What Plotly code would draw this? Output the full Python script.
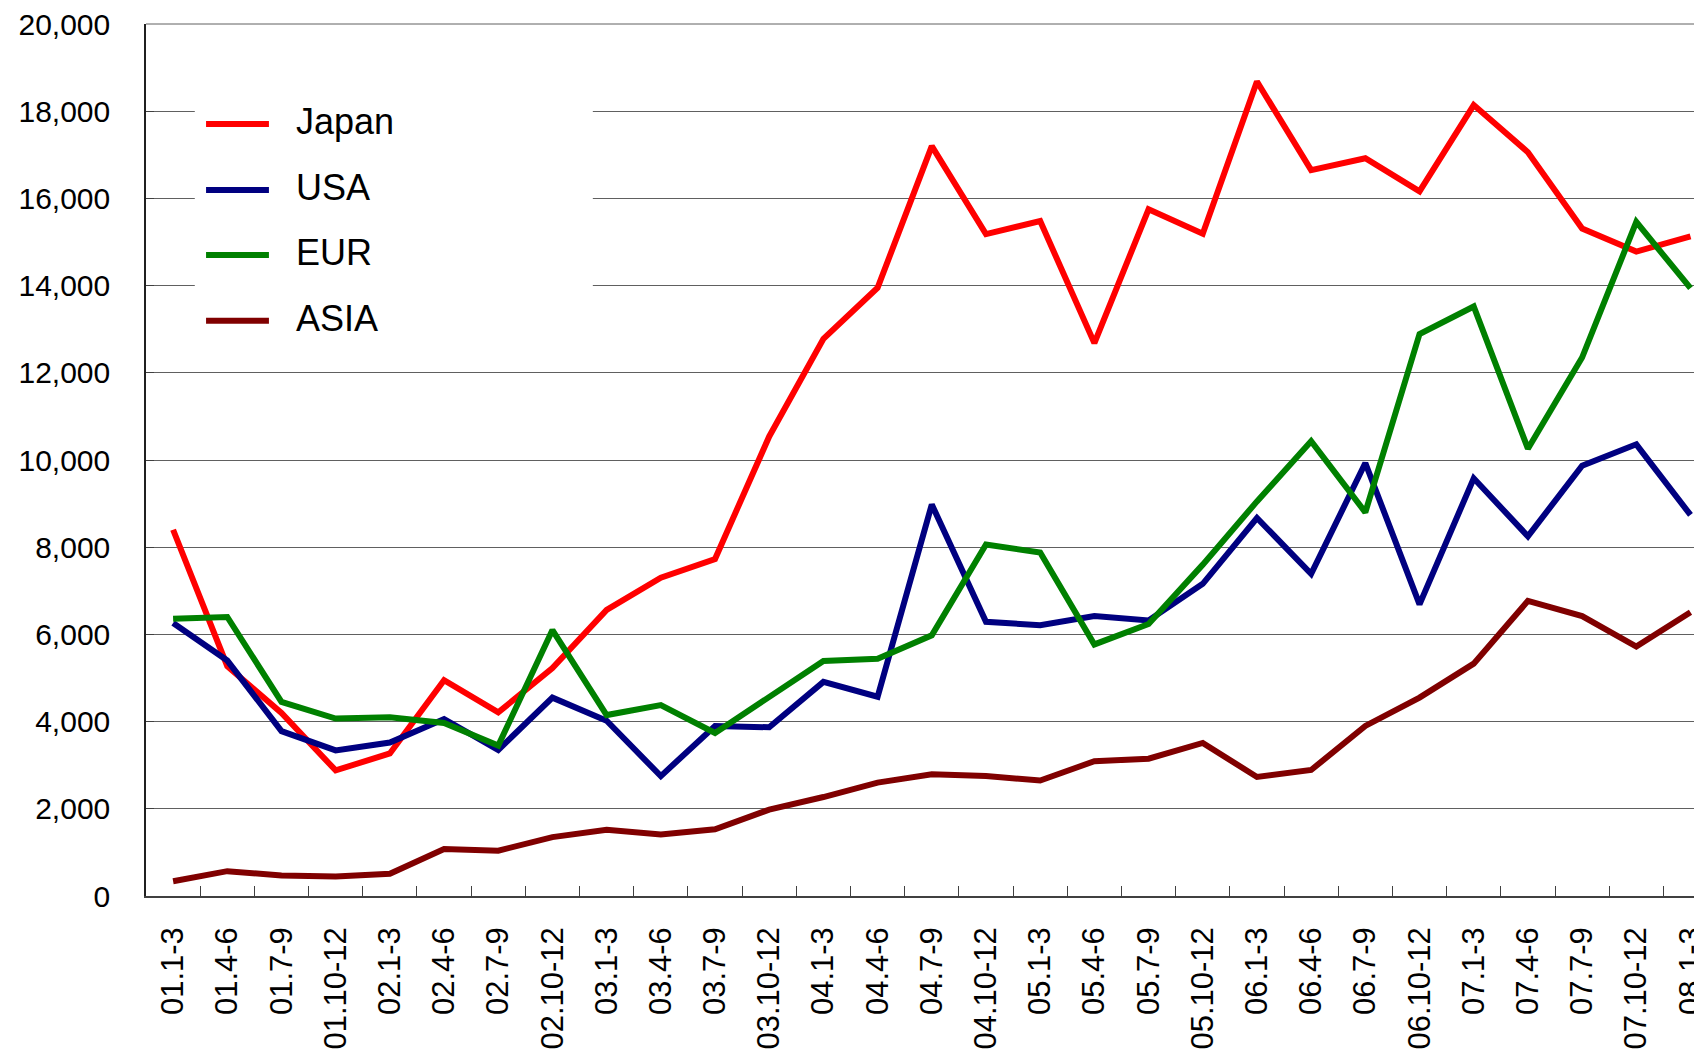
import plotly.graph_objects as go

# quarterly categories
quarters = ['01.1-3', '01.4-6', '01.7-9', '01.10-12',
            '02.1-3', '02.4-6', '02.7-9', '02.10-12',
            '03.1-3', '03.4-6', '03.7-9', '03.10-12',
            '04.1-3', '04.4-6', '04.7-9', '04.10-12',
            '05.1-3', '05.4-6', '05.7-9', '05.10-12',
            '06.1-3', '06.4-6', '06.7-9', '06.10-12',
            '07.1-3', '07.4-6', '07.7-9', '07.10-12',
            '08.1-3']

japan = [8400, 5270, 4200, 2880, 3270, 4950, 4210, 5230,
         6560, 7300, 7730, 10540, 12780, 13950, 17200, 15180,
         15480, 12680, 15750, 15190, 18680, 16650, 16920, 16160,
         18140, 17060, 15310, 14780, 15130]
usa = [6260, 5400, 3780, 3340, 3520, 4060, 3350, 4550,
       4020, 2750, 3900, 3870, 4910, 4570, 8980, 6290,
       6210, 6420, 6320, 7160, 8670, 7390, 9930, 6690,
       9580, 8250, 9870, 10360, 8740]
eur = [6360, 6400, 4450, 4070, 4100, 3970, 3450, 6100,
       4150, 4380, 3740, 4570, 5390, 5440, 5980, 8060,
       7880, 5770, 6240, 7600, 9050, 10430, 8800, 12890,
       13520, 10260, 12350, 15460, 13940]
asia = [340, 570, 470, 450, 510, 1080, 1040, 1350,
        1520, 1410, 1530, 1980, 2270, 2600, 2790, 2750,
        2650, 3090, 3150, 3510, 2730, 2890, 3900, 4550,
        5330, 6770, 6420, 5720, 6510]

series = [('Japan', japan, '#FF0000'),
          ('USA', usa, '#000080'),
          ('EUR', eur, '#008000'),
          ('ASIA', asia, '#800000')]

FONT = 'Liberation Sans, Arial, sans-serif'

fig = go.Figure()
for name, vals, col in series:
    fig.add_trace(go.Scatter(x=quarters, y=vals, name=name, mode='lines',
                             line=dict(color=col, width=6)))

# top border line (the gridline at the top of the range is not drawn by plotly)
shapes = [dict(type='line', xref='paper', yref='paper', x0=0, x1=1, y0=1, y1=1,
               line=dict(color='#606060', width=1), layer='below')]
# hand made legend (white box over the gridlines, long line keys)
shapes.append(dict(type='rect', xref='paper', yref='paper',
                   x0=0.0312, x1=0.2857, y0=0.632, y1=0.936,
                   fillcolor='white', line=dict(width=0), layer='above'))
annotations = []
leg_y = [0.8854, 0.8097, 0.7352, 0.6596]
for (name, vals, col), yy in zip(series, leg_y):
    shapes.append(dict(type='line', xref='paper', yref='paper',
                       x0=0.0384, x1=0.0786, y0=yy, y1=yy,
                       line=dict(color=col, width=6), layer='above'))
    annotations.append(dict(text=name, xref='paper', yref='paper',
                            x=0.0946, y=yy + 0.003, xanchor='left', yanchor='middle',
                            showarrow=False, font=dict(family=FONT, size=36, color='black')))

# the page body adds 8px on top/left, margins compensate for it
fig.update_layout(
    width=1702, height=1053,
    margin=dict(l=138, r=0, t=16, b=165),
    plot_bgcolor='white', paper_bgcolor='white',
    showlegend=False,
    shapes=shapes, annotations=annotations,
    font=dict(family=FONT, color='black'),
)
fig.update_xaxes(type='category', range=[-0.5, 28.36],
                 tickangle=-90, tickfont=dict(size=31),
                 ticks='inside', tickson='boundaries', ticklen=10,
                 tickcolor='#404040', tickwidth=1.2,
                 showline=True, linecolor='#404040', linewidth=1.5,
                 showgrid=False, ticklabelstandoff=17)
fig.update_yaxes(range=[0, 20000], dtick=2000, tickformat=',d',
                 tickfont=dict(size=30), ticklabeloverflow='allow',
                 ticks='inside', ticklen=8, tickcolor='#404040',
                 showline=True, linecolor='#202020', linewidth=1.5,
                 showgrid=True, gridcolor='#606060', gridwidth=1,
                 zeroline=False, ticklabelstandoff=28)

fig.write_html('out.html')
